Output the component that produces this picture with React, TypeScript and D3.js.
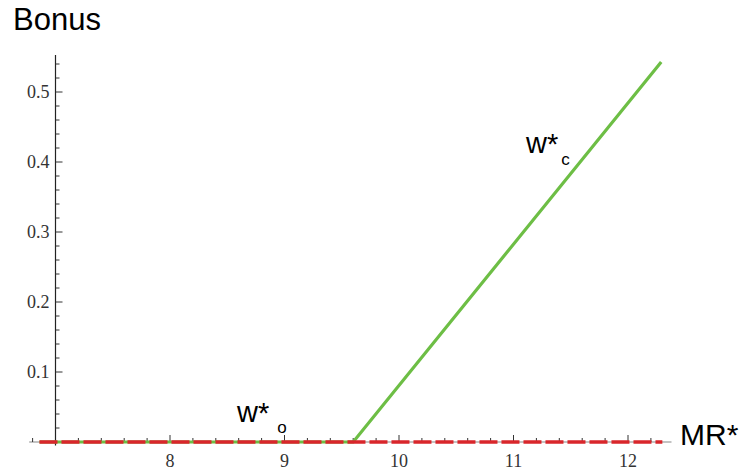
import React from "react";
import * as d3 from "d3";

const W = 744;
const H = 472;

// Data
const greenX = [6.86, 9.6, 12.29];
const greenY = [0, 0, 0.543];
const redX = [6.86, 12.3];
const redY = [0, 0];
const xMajorTicks = [8, 9, 10, 11, 12];
const yMajorTicks = [0.1, 0.2, 0.3, 0.4, 0.5];
const xMinorTicks = d3.range(34, 62).map((i) => i / 5).filter((v) => !xMajorTicks.includes(v));
const yMinorTicks = d3.range(1, 28).map((i) => i / 50).filter((v) => !yMajorTicks.some((m) => Math.abs(m - v) < 1e-9));

export default function App() {
  const x = d3.scaleLinear().domain([8, 12]).range([170, 628]);
  const y = d3.scaleLinear().domain([0, 0.5]).range([442, 92]);
  const line = d3
    .line<[number, number]>()
    .x((d) => x(d[0]))
    .y((d) => y(d[1]));
  const green: [number, number][] = greenX.map((v, i) => [v, greenY[i]]);
  const red: [number, number][] = redX.map((v, i) => [v, redY[i]]);
  const x0 = x(7);
  const y0 = y(0);
  const serif = "Liberation Serif";
  const sans = "Liberation Sans";
  return (
    <svg width={W} height={H} style={{ position: "absolute", left: 0, top: 0, background: "#fff" }}>
      {/* x axis */}
      <line x1={x(6.77)} x2={x(12.38)} y1={y0} y2={y0} stroke="#888" strokeWidth={1.2} />
      {xMinorTicks.map((t) => (
        <line key={"xm" + t} x1={x(t)} x2={x(t)} y1={y0} y2={y0 - 4} stroke="#333" strokeWidth={1} />
      ))}
      {xMajorTicks.map((t) => (
        <g key={"xM" + t}>
          <line x1={x(t)} x2={x(t)} y1={y0} y2={y0 - 7} stroke="#333" strokeWidth={1} />
          <text x={x(t)} y={467} textAnchor="middle" fontFamily={serif} fontSize={18} fill="#333">
            {String(t)}
          </text>
        </g>
      ))}
      {/* y axis */}
      <line x1={x0} x2={x0} y1={y(0.553)} y2={y(-0.005)} stroke="#222" strokeWidth={1.2} />
      {yMinorTicks.map((t) => (
        <line key={"ym" + t} x1={x0} x2={x0 + 4} y1={y(t)} y2={y(t)} stroke="#333" strokeWidth={1} />
      ))}
      {yMajorTicks.map((t) => (
        <g key={"yM" + t}>
          <line x1={x0} x2={x0 + 7} y1={y(t)} y2={y(t)} stroke="#333" strokeWidth={1} />
          <text x={x0 - 6} y={y(t) + 6} textAnchor="end" fontFamily={serif} fontSize={18} fill="#333">
            {d3.format(".1f")(t)}
          </text>
        </g>
      ))}
      {/* lines */}
      <path d={line(green) || ""} fill="none" stroke="#6DBE45" strokeWidth={3.2} />
      <path
        d={line(red) || ""}
        fill="none"
        stroke="#D9262B"
        strokeWidth={3.6}
        strokeDasharray="18,4"
      />
      {/* labels */}
      <text x={13} y={30} fontFamily={sans} fontSize={31} fill="#000">
        Bonus
      </text>
      <text x={680} y={445} fontFamily={sans} fontSize={30} fill="#000">
        MR*
      </text>
      <text x={237} y={422} fontFamily={sans} fontSize={29} fill="#000">
        w
        <tspan dy={1}>*</tspan>
        <tspan dx={8} dy={10} fontSize={17}>o</tspan>
      </text>
      <text x={526} y={153} fontFamily={sans} fontSize={29} fill="#000">
        w
        <tspan dy={1}>*</tspan>
        <tspan dx={3} dy={11} fontSize={17}>c</tspan>
      </text>
    </svg>
  );
}
